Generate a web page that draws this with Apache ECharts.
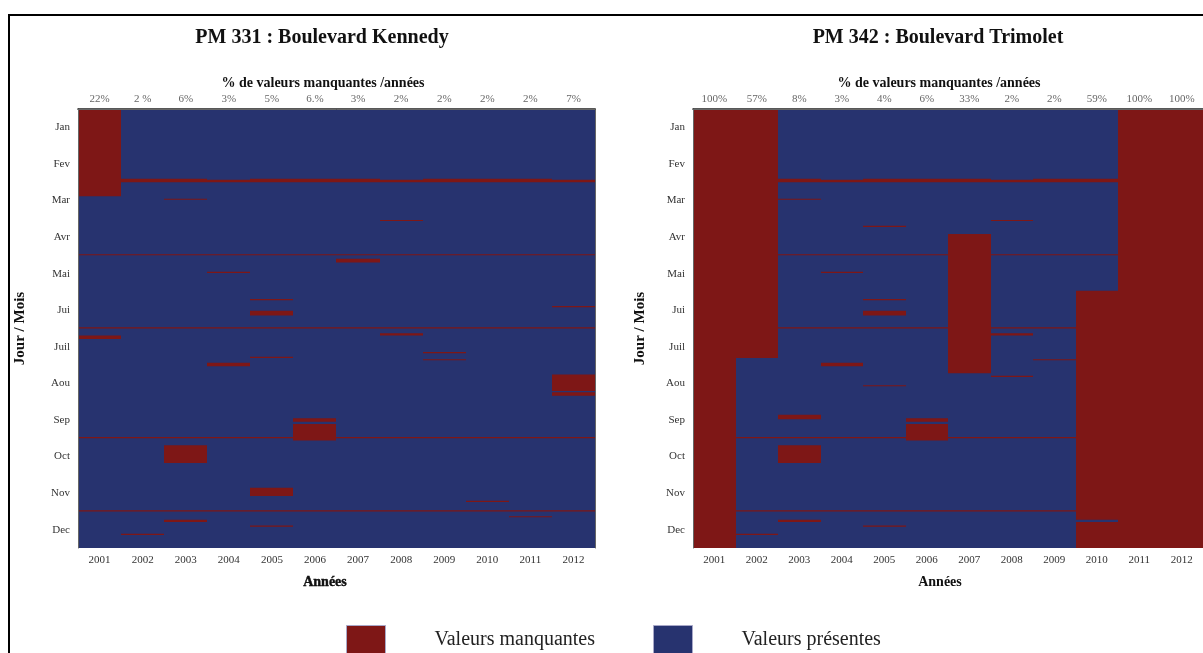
<!DOCTYPE html>
<html><head><meta charset="utf-8">
<script src="https://cdn.jsdelivr.net/npm/echarts@6/dist/echarts.min.js"></script>
<style>html,body{margin:0;padding:0;background:#fff}#c{width:1203px;height:653px}</style>
</head><body><div id="c"></div><script>
// ---------------- data ----------------
const years = ['2001','2002','2003','2004','2005','2006','2007','2008','2009','2010','2011','2012'];
const months = ['Jan','Fev','Mar','Avr','Mai','Jui','Juil','Aou','Sep','Oct','Nov','Dec'];
const pctKennedy = ['22%','2 %','6%','3%','5%','6.%','3%','2%','2%','2%','2%','7%'];
const pctTrimolet = ['100%','57%','8%','3%','4%','6%','33%','2%','2%','59%','100%','100%'];
const leapYears = ['2004','2008','2012'];
// calendar rows are 31 days per month: days that do not exist show as missing
const nonexistentDays = [['02-29','02-31'],['04-31','04-31'],['06-31','06-31'],['09-31','09-31'],['11-31','11-31']];
const nonexistentDaysLeap = [['02-30','02-31'],['04-31','04-31'],['06-31','06-31'],['09-31','09-31'],['11-31','11-31']];
// missing periods [year, first day MM-DD, last day MM-DD]
const missingKennedy = [
  ['2001','01-01','03-12'],['2001','07-07','07-09'],
  ['2002','12-20','12-20'],
  ['2003','03-15','03-15'],['2003','10-07','10-21'],['2003','12-08','12-09'],
  ['2004','05-15','05-15'],['2004','07-30','08-01'],
  ['2005','06-07','06-07'],['2005','06-17','06-20'],['2005','07-25','07-25'],['2005','11-12','11-18'],['2005','12-13','12-13'],
  ['2006','09-15','09-17'],['2006','09-20','10-02'],
  ['2007','05-04','05-06'],
  ['2008','04-02','04-02'],['2008','07-05','07-06'],
  ['2009','07-21','07-21'],['2009','07-27','07-27'],
  ['2010','11-23','11-23'],
  ['2011','12-05','12-05'],
  ['2012','06-13','06-13'],['2012','08-09','08-22'],['2012','08-24','08-26']
];
const missingTrimolet = [
  ['2001','01-01','12-31'],
  ['2002','01-01','07-25'],['2002','12-20','12-20'],
  ['2003','03-15','03-15'],['2003','09-12','09-15'],['2003','10-07','10-21'],['2003','12-08','12-09'],
  ['2004','05-15','05-15'],['2004','07-30','08-01'],
  ['2005','04-07','04-07'],['2005','06-07','06-07'],['2005','06-17','06-20'],['2005','08-18','08-18'],['2005','12-13','12-13'],
  ['2006','09-15','09-17'],['2006','09-20','10-02'],
  ['2007','04-14','08-07'],
  ['2008','04-02','04-02'],['2008','07-05','07-06'],['2008','08-10','08-10'],
  ['2009','07-27','07-27'],
  ['2010','05-31','12-07'],['2010','12-10','12-31'],
  ['2011','01-01','12-31'],
  ['2012','01-01','12-31']
];
// ---------------- build ----------------
const RED = '#7e1716', BLUE = '#27336f';
const FONT = '"Liberation Serif","Times New Roman",serif';
const SLOTS = 372;
function slot(md){ const p = md.split('-').map(Number); return (p[0]-1)*31 + (p[1]-1); }
function buildMissing(list){
  const out = [];
  years.forEach((y,i)=>{
    (leapYears.includes(y) ? nonexistentDaysLeap : nonexistentDays)
      .forEach(g=>out.push([i, slot(g[0]), slot(g[1])+1]));
  });
  list.forEach(r=>out.push([years.indexOf(r[0]), slot(r[1]), slot(r[2])+1]));
  return out;
}
const present = years.map((y,i)=>[i, 0, SLOTS]);
function renderRect(params, api){
  const idx = api.value(0);
  const x = api.coord([idx, 0])[0];
  const w = api.size([1, 0])[0];
  const x0 = Math.round(x - w/2), x1 = Math.round(x + w/2);
  const y0 = api.coord([idx, api.value(1)])[1];
  const y1 = api.coord([idx, api.value(2)])[1];
  return {type:'rect', shape:{x:x0, y:y0, width:x1-x0, height:y1-y0}, style:{fill: api.visual('color')}};
}
const grids = [{left:78, top:109, width:517, height:439}, {left:693, top:109, width:516, height:439}];
const xAxes = [], yAxes = [], series = [];
const noSplit = {splitLine:{show:false}, splitArea:{show:false}};
[[pctKennedy, missingKennedy, 50], [pctTrimolet, missingTrimolet, 45]].forEach((cfg, g)=>{
  xAxes.push(Object.assign({gridIndex:g, type:'category', data:years, position:'bottom', z:5,
    axisLine:{lineStyle:{color:'#222', width:1.5}},
    axisTick:{inside:true, alignWithLabel:true, length:5, lineStyle:{color:'#222'}},
    axisLabel:{color:'#333', fontSize:11, fontFamily:FONT, margin:7}}, noSplit));
  xAxes.push(Object.assign({gridIndex:g, type:'category', data:cfg[0], position:'top', z:5,
    axisLine:{lineStyle:{color:'#666', width:1}},
    axisTick:{inside:true, alignWithLabel:true, length:4, lineStyle:{color:'#222'}},
    axisLabel:{color:'#666', fontSize:11, fontFamily:FONT, margin:4}}, noSplit));
  yAxes.push(Object.assign({gridIndex:g, type:'category', data:months, inverse:true, position:'left', z:5,
    name:'Jour / Mois', nameLocation:'middle', nameGap:cfg[2],
    nameTextStyle:{fontFamily:FONT, fontSize:15, fontWeight:'bold', color:'#111'},
    axisLine:{lineStyle:{color:'#666'}},
    axisTick:{inside:true, length:4, lineStyle:{color:'#222'}},
    axisLabel:{color:'#333', fontSize:11, fontFamily:FONT, margin:8}}, noSplit));
  yAxes.push(Object.assign({gridIndex:g, type:'category', data:months, inverse:true, position:'right', z:5,
    axisLine:{lineStyle:{color:'#666'}},
    axisTick:{inside:true, length:4, lineStyle:{color:'#222'}},
    axisLabel:{show:false}}, noSplit));
  yAxes.push(Object.assign({gridIndex:g, type:'value', min:0, max:SLOTS, inverse:true, show:false}, noSplit));
  series.push({type:'custom', name:'Valeurs présentes', xAxisIndex:2*g, yAxisIndex:3*g+2,
    itemStyle:{color:BLUE}, renderItem:renderRect, data:present, z:2, silent:true});
  series.push({type:'custom', name:'Valeurs manquantes', xAxisIndex:2*g, yAxisIndex:3*g+2,
    itemStyle:{color:RED}, renderItem:renderRect, data:buildMissing(cfg[1]), z:3, silent:true});
});
function txt(x, y, text, size, weight, extra){
  return {type:'text', x:x, y:y, z:10, style:Object.assign({text:text, align:'center', verticalAlign:'middle',
    fontFamily:FONT, fontSize:size, fontWeight:weight, fill:'#111'}, extra||{})};
}
const legendBase = {orient:'horizontal', top:620, itemWidth:39, itemHeight:29, selectedMode:false, icon:'rect',
  itemStyle:{borderColor:'#a8a8c8', borderWidth:1},
  formatter:n=>'{t|'+n+'}',
  textStyle:{rich:{t:{fontFamily:FONT, fontSize:20, color:'#222', padding:[0,0,0,44]}}}};
const chart = echarts.init(document.getElementById('c'), null, {renderer:'canvas'});
chart.setOption({
  animation:false,
  backgroundColor:'#fff',
  grid:grids,
  xAxis:xAxes,
  yAxis:yAxes,
  series:series,
  legend:[Object.assign({left:341, data:['Valeurs manquantes']}, legendBase),
          Object.assign({left:648, data:['Valeurs présentes']}, legendBase)],
  graphic:[
    {type:'rect', shape:{x:9, y:15, width:1300, height:700}, style:{fill:'none', stroke:'#000', lineWidth:2}, z:10},
    txt(322, 38, 'PM 331 : Boulevard Kennedy', 20, 'bold'),
    txt(938, 38, 'PM 342 : Boulevard Trimolet', 20, 'bold'),
    txt(323, 83, '% de valeurs manquantes /années', 14, 'bold'),
    txt(939, 83, '% de valeurs manquantes /années', 14, 'bold'),
    txt(325, 582, 'Années', 14, 'bold', {stroke:'#000', lineWidth:0.4}),
    txt(940, 582, 'Années', 14, 'bold')
  ]
});
</script></body></html>
